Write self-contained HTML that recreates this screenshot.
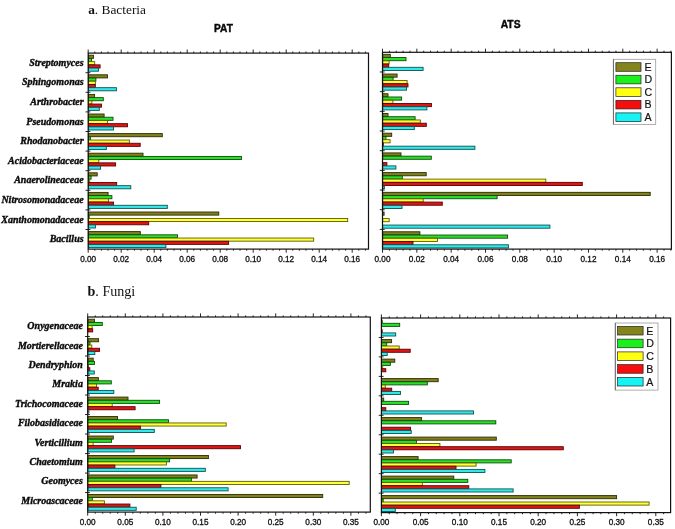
<!DOCTYPE html>
<html><head><meta charset="utf-8"><title>Figure</title>
<style>
html,body{margin:0;padding:0;background:#fff;}
svg{display:block;}
.ax{font-family:"Liberation Sans",Arial,sans-serif;font-size:8.2px;text-anchor:middle;fill:#111;stroke:#111;stroke-width:0.3px;}
.yl{font-family:"Liberation Serif","Times New Roman",serif;font-size:10px;font-weight:bold;font-style:italic;text-anchor:end;fill:#0a0a0a;stroke:#0a0a0a;stroke-width:0.36px;}
.lg{font-family:"Liberation Sans",Arial,sans-serif;font-size:10.6px;fill:#111;stroke:#111;stroke-width:0.2px;}
.ttl{font-family:"Liberation Serif","Times New Roman",serif;font-size:13.8px;fill:#111;}
.hd{font-family:"Liberation Sans",Arial,sans-serif;font-size:11.4px;font-weight:bold;fill:#0a0a0a;stroke:#0a0a0a;stroke-width:0.45px;}
</style></head><body>
<svg width="675" height="529" viewBox="0 0 675 529">
<rect width="675" height="529" fill="#fff"/>
<rect x="88.4" y="55.2" width="5.1" height="3.12" fill="#80801c" stroke="#2c2c00" stroke-width="0.9"/>
<rect x="88.4" y="58.42" width="3.1" height="3.12" fill="#2ae02a" stroke="#0a4c0a" stroke-width="0.9"/>
<rect x="88.4" y="61.64" width="6.3" height="3.12" fill="#ffff3a" stroke="#5c5c00" stroke-width="0.9"/>
<rect x="88.4" y="64.86" width="11.7" height="3.12" fill="#e01515" stroke="#5a0000" stroke-width="0.9"/>
<rect x="88.4" y="68.08" width="10.1" height="3.12" fill="#35e8e8" stroke="#0a5252" stroke-width="0.9"/>
<rect x="88.4" y="74.8" width="19.1" height="3.12" fill="#80801c" stroke="#2c2c00" stroke-width="0.9"/>
<rect x="88.4" y="78.02" width="7.5" height="3.12" fill="#2ae02a" stroke="#0a4c0a" stroke-width="0.9"/>
<rect x="88.4" y="81.24" width="6.9" height="3.12" fill="#ffff3a" stroke="#5c5c00" stroke-width="0.9"/>
<rect x="88.4" y="84.46" width="6.9" height="3.12" fill="#e01515" stroke="#5a0000" stroke-width="0.9"/>
<rect x="88.4" y="87.68" width="28" height="3.12" fill="#35e8e8" stroke="#0a5252" stroke-width="0.9"/>
<rect x="88.4" y="94.4" width="6.2" height="3.12" fill="#80801c" stroke="#2c2c00" stroke-width="0.9"/>
<rect x="88.4" y="97.62" width="14.9" height="3.12" fill="#2ae02a" stroke="#0a4c0a" stroke-width="0.9"/>
<rect x="88.4" y="100.84" width="3.5" height="3.12" fill="#ffff3a" stroke="#5c5c00" stroke-width="0.9"/>
<rect x="88.4" y="104.06" width="13.1" height="3.12" fill="#e01515" stroke="#5a0000" stroke-width="0.9"/>
<rect x="88.4" y="107.28" width="10.9" height="3.12" fill="#35e8e8" stroke="#0a5252" stroke-width="0.9"/>
<rect x="88.4" y="114" width="15.7" height="3.12" fill="#80801c" stroke="#2c2c00" stroke-width="0.9"/>
<rect x="88.4" y="117.22" width="24.6" height="3.12" fill="#2ae02a" stroke="#0a4c0a" stroke-width="0.9"/>
<rect x="88.4" y="120.44" width="19.1" height="3.12" fill="#ffff3a" stroke="#5c5c00" stroke-width="0.9"/>
<rect x="88.4" y="123.66" width="39.1" height="3.12" fill="#e01515" stroke="#5a0000" stroke-width="0.9"/>
<rect x="88.4" y="126.88" width="25.1" height="3.12" fill="#35e8e8" stroke="#0a5252" stroke-width="0.9"/>
<rect x="88.4" y="133.6" width="73.9" height="3.12" fill="#80801c" stroke="#2c2c00" stroke-width="0.9"/>
<rect x="88.4" y="136.82" width="2" height="3.12" fill="#2ae02a" stroke="#0a4c0a" stroke-width="0.9"/>
<rect x="88.4" y="140.04" width="41" height="3.12" fill="#ffff3a" stroke="#5c5c00" stroke-width="0.9"/>
<rect x="88.4" y="143.26" width="51.8" height="3.12" fill="#e01515" stroke="#5a0000" stroke-width="0.9"/>
<rect x="88.4" y="146.48" width="17.9" height="3.12" fill="#35e8e8" stroke="#0a5252" stroke-width="0.9"/>
<rect x="88.4" y="153.2" width="54.6" height="3.12" fill="#80801c" stroke="#2c2c00" stroke-width="0.9"/>
<rect x="88.4" y="156.42" width="153.1" height="3.12" fill="#2ae02a" stroke="#0a4c0a" stroke-width="0.9"/>
<rect x="88.4" y="159.64" width="10.4" height="3.12" fill="#ffff3a" stroke="#5c5c00" stroke-width="0.9"/>
<rect x="88.4" y="162.86" width="27.2" height="3.12" fill="#e01515" stroke="#5a0000" stroke-width="0.9"/>
<rect x="88.4" y="166.08" width="12.2" height="3.12" fill="#35e8e8" stroke="#0a5252" stroke-width="0.9"/>
<rect x="88.4" y="172.8" width="8.8" height="3.12" fill="#80801c" stroke="#2c2c00" stroke-width="0.9"/>
<rect x="88.4" y="176.02" width="2.7" height="3.12" fill="#2ae02a" stroke="#0a4c0a" stroke-width="0.9"/>
<rect x="88.4" y="179.24" width="1.3" height="3.12" fill="#ffff3a" stroke="#5c5c00" stroke-width="0.9"/>
<rect x="88.4" y="182.46" width="28.3" height="3.12" fill="#e01515" stroke="#5a0000" stroke-width="0.9"/>
<rect x="88.4" y="185.68" width="42.4" height="3.12" fill="#35e8e8" stroke="#0a5252" stroke-width="0.9"/>
<rect x="88.4" y="192.4" width="19.7" height="3.12" fill="#80801c" stroke="#2c2c00" stroke-width="0.9"/>
<rect x="88.4" y="195.62" width="23.5" height="3.12" fill="#2ae02a" stroke="#0a4c0a" stroke-width="0.9"/>
<rect x="88.4" y="198.84" width="20.1" height="3.12" fill="#ffff3a" stroke="#5c5c00" stroke-width="0.9"/>
<rect x="88.4" y="202.06" width="25.1" height="3.12" fill="#e01515" stroke="#5a0000" stroke-width="0.9"/>
<rect x="88.4" y="205.28" width="78.9" height="3.12" fill="#35e8e8" stroke="#0a5252" stroke-width="0.9"/>
<rect x="88.4" y="212" width="130.4" height="3.12" fill="#80801c" stroke="#2c2c00" stroke-width="0.9"/>
<rect x="88.4" y="215.22" width="0.8" height="3.12" fill="#2ae02a" stroke="#0a4c0a" stroke-width="0.9"/>
<rect x="88.4" y="218.44" width="259.3" height="3.12" fill="#ffff3a" stroke="#5c5c00" stroke-width="0.9"/>
<rect x="88.4" y="221.66" width="60.3" height="3.12" fill="#e01515" stroke="#5a0000" stroke-width="0.9"/>
<rect x="88.4" y="224.88" width="7" height="3.12" fill="#35e8e8" stroke="#0a5252" stroke-width="0.9"/>
<rect x="88.4" y="231.6" width="51.9" height="3.12" fill="#80801c" stroke="#2c2c00" stroke-width="0.9"/>
<rect x="88.4" y="234.82" width="89.1" height="3.12" fill="#2ae02a" stroke="#0a4c0a" stroke-width="0.9"/>
<rect x="88.4" y="238.04" width="225.3" height="3.12" fill="#ffff3a" stroke="#5c5c00" stroke-width="0.9"/>
<rect x="88.4" y="241.26" width="140.2" height="3.12" fill="#e01515" stroke="#5a0000" stroke-width="0.9"/>
<rect x="88.4" y="244.48" width="77.5" height="3.12" fill="#35e8e8" stroke="#0a5252" stroke-width="0.9"/>
<rect x="88.2" y="53.1" width="280.3" height="196" fill="none" stroke="#111" stroke-width="1.2"/>
<path d="M88.2 53.1v-3.6M88.2 249.1v3.6M94.8 53.1v-1.6M94.8 249.1v1.6M101.4 53.1v-1.6M101.4 249.1v1.6M108 53.1v-1.6M108 249.1v1.6M114.6 53.1v-1.6M114.6 249.1v1.6M121.2 53.1v-3.6M121.2 249.1v3.6M127.8 53.1v-1.6M127.8 249.1v1.6M134.4 53.1v-1.6M134.4 249.1v1.6M141 53.1v-1.6M141 249.1v1.6M147.6 53.1v-1.6M147.6 249.1v1.6M154.2 53.1v-3.6M154.2 249.1v3.6M160.8 53.1v-1.6M160.8 249.1v1.6M167.4 53.1v-1.6M167.4 249.1v1.6M174 53.1v-1.6M174 249.1v1.6M180.6 53.1v-1.6M180.6 249.1v1.6M187.2 53.1v-3.6M187.2 249.1v3.6M193.8 53.1v-1.6M193.8 249.1v1.6M200.4 53.1v-1.6M200.4 249.1v1.6M207 53.1v-1.6M207 249.1v1.6M213.6 53.1v-1.6M213.6 249.1v1.6M220.2 53.1v-3.6M220.2 249.1v3.6M226.8 53.1v-1.6M226.8 249.1v1.6M233.4 53.1v-1.6M233.4 249.1v1.6M240 53.1v-1.6M240 249.1v1.6M246.6 53.1v-1.6M246.6 249.1v1.6M253.2 53.1v-3.6M253.2 249.1v3.6M259.8 53.1v-1.6M259.8 249.1v1.6M266.4 53.1v-1.6M266.4 249.1v1.6M273 53.1v-1.6M273 249.1v1.6M279.6 53.1v-1.6M279.6 249.1v1.6M286.2 53.1v-3.6M286.2 249.1v3.6M292.8 53.1v-1.6M292.8 249.1v1.6M299.4 53.1v-1.6M299.4 249.1v1.6M306 53.1v-1.6M306 249.1v1.6M312.6 53.1v-1.6M312.6 249.1v1.6M319.2 53.1v-3.6M319.2 249.1v3.6M325.8 53.1v-1.6M325.8 249.1v1.6M332.4 53.1v-1.6M332.4 249.1v1.6M339 53.1v-1.6M339 249.1v1.6M345.6 53.1v-1.6M345.6 249.1v1.6M352.2 53.1v-3.6M352.2 249.1v3.6M358.8 53.1v-1.6M358.8 249.1v1.6M365.4 53.1v-1.6M365.4 249.1v1.6M90.4 72.7h-4.9M90.4 92.3h-4.9M90.4 111.9h-4.9M90.4 131.5h-4.9M90.4 151.1h-4.9M90.4 170.7h-4.9M90.4 190.3h-4.9M90.4 209.9h-4.9M90.4 229.5h-4.9" stroke="#111" stroke-width="0.9" fill="none"/>
<text class="ax" x="88.2" y="261.5">0.00</text>
<text class="ax" x="121.2" y="261.5">0.02</text>
<text class="ax" x="154.2" y="261.5">0.04</text>
<text class="ax" x="187.2" y="261.5">0.06</text>
<text class="ax" x="220.2" y="261.5">0.08</text>
<text class="ax" x="253.2" y="261.5">0.10</text>
<text class="ax" x="286.2" y="261.5">0.12</text>
<text class="ax" x="319.2" y="261.5">0.14</text>
<text class="ax" x="352.2" y="261.5">0.16</text>
<text class="yl" x="83.6" y="65.7">Streptomyces</text>
<text class="yl" x="83.6" y="85.3">Sphingomonas</text>
<text class="yl" x="83.6" y="104.9">Arthrobacter</text>
<text class="yl" x="83.6" y="124.5">Pseudomonas</text>
<text class="yl" x="83.6" y="144.1">Rhodanobacter</text>
<text class="yl" x="83.6" y="163.7">Acidobacteriaceae</text>
<text class="yl" x="83.6" y="183.3">Anaerolineaceae</text>
<text class="yl" x="83.6" y="202.9">Nitrosomonadaceae</text>
<text class="yl" x="83.6" y="222.5">Xanthomonadaceae</text>
<text class="yl" x="83.6" y="242.1">Bacillus</text>
<rect x="382.7" y="54.3" width="7.6" height="3.15" fill="#80801c" stroke="#2c2c00" stroke-width="0.9"/>
<rect x="382.7" y="57.55" width="23.3" height="3.15" fill="#2ae02a" stroke="#0a4c0a" stroke-width="0.9"/>
<rect x="382.7" y="60.8" width="6.4" height="3.15" fill="#ffff3a" stroke="#5c5c00" stroke-width="0.9"/>
<rect x="382.7" y="64.05" width="6" height="3.15" fill="#e01515" stroke="#5a0000" stroke-width="0.9"/>
<rect x="382.7" y="67.3" width="40.4" height="3.15" fill="#35e8e8" stroke="#0a5252" stroke-width="0.9"/>
<rect x="382.7" y="74.02" width="14.4" height="3.15" fill="#80801c" stroke="#2c2c00" stroke-width="0.9"/>
<rect x="382.7" y="77.27" width="10.4" height="3.15" fill="#2ae02a" stroke="#0a4c0a" stroke-width="0.9"/>
<rect x="382.7" y="80.52" width="24.4" height="3.15" fill="#ffff3a" stroke="#5c5c00" stroke-width="0.9"/>
<rect x="382.7" y="83.77" width="25.3" height="3.15" fill="#e01515" stroke="#5a0000" stroke-width="0.9"/>
<rect x="382.7" y="87.02" width="23.8" height="3.15" fill="#35e8e8" stroke="#0a5252" stroke-width="0.9"/>
<rect x="382.7" y="93.74" width="5.3" height="3.15" fill="#80801c" stroke="#2c2c00" stroke-width="0.9"/>
<rect x="382.7" y="96.99" width="18.9" height="3.15" fill="#2ae02a" stroke="#0a4c0a" stroke-width="0.9"/>
<rect x="382.7" y="100.24" width="10.2" height="3.15" fill="#ffff3a" stroke="#5c5c00" stroke-width="0.9"/>
<rect x="382.7" y="103.49" width="48.7" height="3.15" fill="#e01515" stroke="#5a0000" stroke-width="0.9"/>
<rect x="382.7" y="106.74" width="44.2" height="3.15" fill="#35e8e8" stroke="#0a5252" stroke-width="0.9"/>
<rect x="382.7" y="113.46" width="5.3" height="3.15" fill="#80801c" stroke="#2c2c00" stroke-width="0.9"/>
<rect x="382.7" y="116.71" width="32.4" height="3.15" fill="#2ae02a" stroke="#0a4c0a" stroke-width="0.9"/>
<rect x="382.7" y="119.96" width="37.6" height="3.15" fill="#ffff3a" stroke="#5c5c00" stroke-width="0.9"/>
<rect x="382.7" y="123.21" width="43.6" height="3.15" fill="#e01515" stroke="#5a0000" stroke-width="0.9"/>
<rect x="382.7" y="126.46" width="31.6" height="3.15" fill="#35e8e8" stroke="#0a5252" stroke-width="0.9"/>
<rect x="382.7" y="133.18" width="9" height="3.15" fill="#80801c" stroke="#2c2c00" stroke-width="0.9"/>
<rect x="382.7" y="136.43" width="3.3" height="3.15" fill="#2ae02a" stroke="#0a4c0a" stroke-width="0.9"/>
<rect x="382.7" y="139.68" width="7.4" height="3.15" fill="#ffff3a" stroke="#5c5c00" stroke-width="0.9"/>
<rect x="382.7" y="142.93" width="0.6" height="3.15" fill="#e01515" stroke="#5a0000" stroke-width="0.9"/>
<rect x="382.7" y="146.18" width="92.2" height="3.15" fill="#35e8e8" stroke="#0a5252" stroke-width="0.9"/>
<rect x="382.7" y="152.9" width="18.3" height="3.15" fill="#80801c" stroke="#2c2c00" stroke-width="0.9"/>
<rect x="382.7" y="156.15" width="48.6" height="3.15" fill="#2ae02a" stroke="#0a4c0a" stroke-width="0.9"/>
<rect x="382.7" y="162.65" width="4.2" height="3.15" fill="#e01515" stroke="#5a0000" stroke-width="0.9"/>
<rect x="382.7" y="165.9" width="13.2" height="3.15" fill="#35e8e8" stroke="#0a5252" stroke-width="0.9"/>
<rect x="382.7" y="172.62" width="43.5" height="3.15" fill="#80801c" stroke="#2c2c00" stroke-width="0.9"/>
<rect x="382.7" y="175.87" width="19.6" height="3.15" fill="#2ae02a" stroke="#0a4c0a" stroke-width="0.9"/>
<rect x="382.7" y="179.12" width="163.1" height="3.15" fill="#ffff3a" stroke="#5c5c00" stroke-width="0.9"/>
<rect x="382.7" y="182.37" width="199.6" height="3.15" fill="#e01515" stroke="#5a0000" stroke-width="0.9"/>
<rect x="382.7" y="185.62" width="1.7" height="3.15" fill="#35e8e8" stroke="#0a5252" stroke-width="0.9"/>
<rect x="382.7" y="192.34" width="267.5" height="3.15" fill="#80801c" stroke="#2c2c00" stroke-width="0.9"/>
<rect x="382.7" y="195.59" width="114.4" height="3.15" fill="#2ae02a" stroke="#0a4c0a" stroke-width="0.9"/>
<rect x="382.7" y="198.84" width="40.5" height="3.15" fill="#ffff3a" stroke="#5c5c00" stroke-width="0.9"/>
<rect x="382.7" y="202.09" width="59.6" height="3.15" fill="#e01515" stroke="#5a0000" stroke-width="0.9"/>
<rect x="382.7" y="205.34" width="19.3" height="3.15" fill="#35e8e8" stroke="#0a5252" stroke-width="0.9"/>
<rect x="382.7" y="212.06" width="1.4" height="3.15" fill="#80801c" stroke="#2c2c00" stroke-width="0.9"/>
<rect x="382.7" y="218.56" width="6.5" height="3.15" fill="#ffff3a" stroke="#5c5c00" stroke-width="0.9"/>
<rect x="382.7" y="225.06" width="167.2" height="3.15" fill="#35e8e8" stroke="#0a5252" stroke-width="0.9"/>
<rect x="382.7" y="231.78" width="37.2" height="3.15" fill="#80801c" stroke="#2c2c00" stroke-width="0.9"/>
<rect x="382.7" y="235.03" width="124.9" height="3.15" fill="#2ae02a" stroke="#0a4c0a" stroke-width="0.9"/>
<rect x="382.7" y="238.28" width="54.8" height="3.15" fill="#ffff3a" stroke="#5c5c00" stroke-width="0.9"/>
<rect x="382.7" y="241.53" width="30.3" height="3.15" fill="#e01515" stroke="#5a0000" stroke-width="0.9"/>
<rect x="382.7" y="244.78" width="125.7" height="3.15" fill="#35e8e8" stroke="#0a5252" stroke-width="0.9"/>
<rect x="382.5" y="52.3" width="288.9" height="196.8" fill="none" stroke="#111" stroke-width="1.2"/>
<path d="M382.5 52.3v-3.6M382.5 249.1v3.6M389.37 52.3v-1.6M389.37 249.1v1.6M396.23 52.3v-1.6M396.23 249.1v1.6M403.1 52.3v-1.6M403.1 249.1v1.6M409.96 52.3v-1.6M409.96 249.1v1.6M416.83 52.3v-3.6M416.83 249.1v3.6M423.7 52.3v-1.6M423.7 249.1v1.6M430.56 52.3v-1.6M430.56 249.1v1.6M437.43 52.3v-1.6M437.43 249.1v1.6M444.29 52.3v-1.6M444.29 249.1v1.6M451.16 52.3v-3.6M451.16 249.1v3.6M458.03 52.3v-1.6M458.03 249.1v1.6M464.89 52.3v-1.6M464.89 249.1v1.6M471.76 52.3v-1.6M471.76 249.1v1.6M478.62 52.3v-1.6M478.62 249.1v1.6M485.49 52.3v-3.6M485.49 249.1v3.6M492.36 52.3v-1.6M492.36 249.1v1.6M499.22 52.3v-1.6M499.22 249.1v1.6M506.09 52.3v-1.6M506.09 249.1v1.6M512.95 52.3v-1.6M512.95 249.1v1.6M519.82 52.3v-3.6M519.82 249.1v3.6M526.69 52.3v-1.6M526.69 249.1v1.6M533.55 52.3v-1.6M533.55 249.1v1.6M540.42 52.3v-1.6M540.42 249.1v1.6M547.28 52.3v-1.6M547.28 249.1v1.6M554.15 52.3v-3.6M554.15 249.1v3.6M561.02 52.3v-1.6M561.02 249.1v1.6M567.88 52.3v-1.6M567.88 249.1v1.6M574.75 52.3v-1.6M574.75 249.1v1.6M581.61 52.3v-1.6M581.61 249.1v1.6M588.48 52.3v-3.6M588.48 249.1v3.6M595.35 52.3v-1.6M595.35 249.1v1.6M602.21 52.3v-1.6M602.21 249.1v1.6M609.08 52.3v-1.6M609.08 249.1v1.6M615.94 52.3v-1.6M615.94 249.1v1.6M622.81 52.3v-3.6M622.81 249.1v3.6M629.68 52.3v-1.6M629.68 249.1v1.6M636.54 52.3v-1.6M636.54 249.1v1.6M643.41 52.3v-1.6M643.41 249.1v1.6M650.27 52.3v-1.6M650.27 249.1v1.6M657.14 52.3v-3.6M657.14 249.1v3.6M664.01 52.3v-1.6M664.01 249.1v1.6M670.87 52.3v-1.6M670.87 249.1v1.6M384.7 71.98h-4.9M384.7 91.66h-4.9M384.7 111.34h-4.9M384.7 131.02h-4.9M384.7 150.7h-4.9M384.7 170.38h-4.9M384.7 190.06h-4.9M384.7 209.74h-4.9M384.7 229.42h-4.9" stroke="#111" stroke-width="0.9" fill="none"/>
<text class="ax" x="382.5" y="261.5">0.00</text>
<text class="ax" x="416.83" y="261.5">0.02</text>
<text class="ax" x="451.16" y="261.5">0.04</text>
<text class="ax" x="485.49" y="261.5">0.06</text>
<text class="ax" x="519.82" y="261.5">0.08</text>
<text class="ax" x="554.15" y="261.5">0.10</text>
<text class="ax" x="588.48" y="261.5">0.12</text>
<text class="ax" x="622.81" y="261.5">0.14</text>
<text class="ax" x="657.14" y="261.5">0.16</text>
<rect x="87.9" y="319.2" width="6.6" height="3.1" fill="#80801c" stroke="#2c2c00" stroke-width="0.9"/>
<rect x="87.9" y="322.4" width="14.4" height="3.1" fill="#2ae02a" stroke="#0a4c0a" stroke-width="0.9"/>
<rect x="87.9" y="325.6" width="4.2" height="3.1" fill="#ffff3a" stroke="#5c5c00" stroke-width="0.9"/>
<rect x="87.9" y="328.8" width="4.8" height="3.1" fill="#e01515" stroke="#5a0000" stroke-width="0.9"/>
<rect x="87.9" y="338.67" width="10.7" height="3.1" fill="#80801c" stroke="#2c2c00" stroke-width="0.9"/>
<rect x="87.9" y="341.87" width="2.1" height="3.1" fill="#2ae02a" stroke="#0a4c0a" stroke-width="0.9"/>
<rect x="87.9" y="345.07" width="3.9" height="3.1" fill="#ffff3a" stroke="#5c5c00" stroke-width="0.9"/>
<rect x="87.9" y="348.27" width="11.6" height="3.1" fill="#e01515" stroke="#5a0000" stroke-width="0.9"/>
<rect x="87.9" y="351.47" width="6.9" height="3.1" fill="#35e8e8" stroke="#0a5252" stroke-width="0.9"/>
<rect x="87.9" y="358.14" width="5.3" height="3.1" fill="#80801c" stroke="#2c2c00" stroke-width="0.9"/>
<rect x="87.9" y="361.34" width="6.6" height="3.1" fill="#2ae02a" stroke="#0a4c0a" stroke-width="0.9"/>
<rect x="87.9" y="364.54" width="0.6" height="3.1" fill="#ffff3a" stroke="#5c5c00" stroke-width="0.9"/>
<rect x="87.9" y="367.74" width="1.9" height="3.1" fill="#e01515" stroke="#5a0000" stroke-width="0.9"/>
<rect x="87.9" y="370.94" width="6.4" height="3.1" fill="#35e8e8" stroke="#0a5252" stroke-width="0.9"/>
<rect x="87.9" y="377.61" width="10.5" height="3.1" fill="#80801c" stroke="#2c2c00" stroke-width="0.9"/>
<rect x="87.9" y="380.81" width="23.4" height="3.1" fill="#2ae02a" stroke="#0a4c0a" stroke-width="0.9"/>
<rect x="87.9" y="384.01" width="8.7" height="3.1" fill="#ffff3a" stroke="#5c5c00" stroke-width="0.9"/>
<rect x="87.9" y="387.21" width="10.3" height="3.1" fill="#e01515" stroke="#5a0000" stroke-width="0.9"/>
<rect x="87.9" y="390.41" width="25.9" height="3.1" fill="#35e8e8" stroke="#0a5252" stroke-width="0.9"/>
<rect x="87.9" y="397.08" width="40.1" height="3.1" fill="#80801c" stroke="#2c2c00" stroke-width="0.9"/>
<rect x="87.9" y="400.28" width="71.7" height="3.1" fill="#2ae02a" stroke="#0a4c0a" stroke-width="0.9"/>
<rect x="87.9" y="403.48" width="24.3" height="3.1" fill="#ffff3a" stroke="#5c5c00" stroke-width="0.9"/>
<rect x="87.9" y="406.68" width="47.2" height="3.1" fill="#e01515" stroke="#5a0000" stroke-width="0.9"/>
<rect x="87.9" y="409.88" width="1" height="3.1" fill="#35e8e8" stroke="#0a5252" stroke-width="0.9"/>
<rect x="87.9" y="416.55" width="29.6" height="3.1" fill="#80801c" stroke="#2c2c00" stroke-width="0.9"/>
<rect x="87.9" y="419.75" width="80.6" height="3.1" fill="#2ae02a" stroke="#0a4c0a" stroke-width="0.9"/>
<rect x="87.9" y="422.95" width="138.3" height="3.1" fill="#ffff3a" stroke="#5c5c00" stroke-width="0.9"/>
<rect x="87.9" y="426.15" width="52.5" height="3.1" fill="#e01515" stroke="#5a0000" stroke-width="0.9"/>
<rect x="87.9" y="429.35" width="66.4" height="3.1" fill="#35e8e8" stroke="#0a5252" stroke-width="0.9"/>
<rect x="87.9" y="436.02" width="25.4" height="3.1" fill="#80801c" stroke="#2c2c00" stroke-width="0.9"/>
<rect x="87.9" y="439.22" width="23.6" height="3.1" fill="#2ae02a" stroke="#0a4c0a" stroke-width="0.9"/>
<rect x="87.9" y="442.42" width="5.2" height="3.1" fill="#ffff3a" stroke="#5c5c00" stroke-width="0.9"/>
<rect x="87.9" y="445.62" width="152.6" height="3.1" fill="#e01515" stroke="#5a0000" stroke-width="0.9"/>
<rect x="87.9" y="448.82" width="46.2" height="3.1" fill="#35e8e8" stroke="#0a5252" stroke-width="0.9"/>
<rect x="87.9" y="455.49" width="120.5" height="3.1" fill="#80801c" stroke="#2c2c00" stroke-width="0.9"/>
<rect x="87.9" y="458.69" width="81.7" height="3.1" fill="#2ae02a" stroke="#0a4c0a" stroke-width="0.9"/>
<rect x="87.9" y="461.89" width="78.5" height="3.1" fill="#ffff3a" stroke="#5c5c00" stroke-width="0.9"/>
<rect x="87.9" y="465.09" width="27" height="3.1" fill="#e01515" stroke="#5a0000" stroke-width="0.9"/>
<rect x="87.9" y="468.29" width="117.4" height="3.1" fill="#35e8e8" stroke="#0a5252" stroke-width="0.9"/>
<rect x="87.9" y="474.96" width="109.2" height="3.1" fill="#80801c" stroke="#2c2c00" stroke-width="0.9"/>
<rect x="87.9" y="478.16" width="103.5" height="3.1" fill="#2ae02a" stroke="#0a4c0a" stroke-width="0.9"/>
<rect x="87.9" y="481.36" width="261.3" height="3.1" fill="#ffff3a" stroke="#5c5c00" stroke-width="0.9"/>
<rect x="87.9" y="484.56" width="73" height="3.1" fill="#e01515" stroke="#5a0000" stroke-width="0.9"/>
<rect x="87.9" y="487.76" width="140.2" height="3.1" fill="#35e8e8" stroke="#0a5252" stroke-width="0.9"/>
<rect x="87.9" y="494.43" width="234.8" height="3.1" fill="#80801c" stroke="#2c2c00" stroke-width="0.9"/>
<rect x="87.9" y="497.63" width="4.4" height="3.1" fill="#2ae02a" stroke="#0a4c0a" stroke-width="0.9"/>
<rect x="87.9" y="500.83" width="16.5" height="3.1" fill="#ffff3a" stroke="#5c5c00" stroke-width="0.9"/>
<rect x="87.9" y="504.03" width="42" height="3.1" fill="#e01515" stroke="#5a0000" stroke-width="0.9"/>
<rect x="87.9" y="507.23" width="48.3" height="3.1" fill="#35e8e8" stroke="#0a5252" stroke-width="0.9"/>
<rect x="87.7" y="317" width="282.6" height="195.1" fill="none" stroke="#111" stroke-width="1.2"/>
<path d="M87.7 317v-3.6M87.7 512.1v3.6M95.22 317v-1.6M95.22 512.1v1.6M102.74 317v-1.6M102.74 512.1v1.6M110.26 317v-1.6M110.26 512.1v1.6M117.78 317v-1.6M117.78 512.1v1.6M125.3 317v-3.6M125.3 512.1v3.6M132.82 317v-1.6M132.82 512.1v1.6M140.34 317v-1.6M140.34 512.1v1.6M147.86 317v-1.6M147.86 512.1v1.6M155.38 317v-1.6M155.38 512.1v1.6M162.9 317v-3.6M162.9 512.1v3.6M170.42 317v-1.6M170.42 512.1v1.6M177.94 317v-1.6M177.94 512.1v1.6M185.46 317v-1.6M185.46 512.1v1.6M192.98 317v-1.6M192.98 512.1v1.6M200.5 317v-3.6M200.5 512.1v3.6M208.02 317v-1.6M208.02 512.1v1.6M215.54 317v-1.6M215.54 512.1v1.6M223.06 317v-1.6M223.06 512.1v1.6M230.58 317v-1.6M230.58 512.1v1.6M238.1 317v-3.6M238.1 512.1v3.6M245.62 317v-1.6M245.62 512.1v1.6M253.14 317v-1.6M253.14 512.1v1.6M260.66 317v-1.6M260.66 512.1v1.6M268.18 317v-1.6M268.18 512.1v1.6M275.7 317v-3.6M275.7 512.1v3.6M283.22 317v-1.6M283.22 512.1v1.6M290.74 317v-1.6M290.74 512.1v1.6M298.26 317v-1.6M298.26 512.1v1.6M305.78 317v-1.6M305.78 512.1v1.6M313.3 317v-3.6M313.3 512.1v3.6M320.82 317v-1.6M320.82 512.1v1.6M328.34 317v-1.6M328.34 512.1v1.6M335.86 317v-1.6M335.86 512.1v1.6M343.38 317v-1.6M343.38 512.1v1.6M350.9 317v-3.6M350.9 512.1v3.6M358.42 317v-1.6M358.42 512.1v1.6M365.94 317v-1.6M365.94 512.1v1.6M89.9 336.51h-4.9M89.9 356.02h-4.9M89.9 375.53h-4.9M89.9 395.04h-4.9M89.9 414.55h-4.9M89.9 434.06h-4.9M89.9 453.57h-4.9M89.9 473.08h-4.9M89.9 492.59h-4.9" stroke="#111" stroke-width="0.9" fill="none"/>
<text class="ax" x="87.7" y="524.5">0.00</text>
<text class="ax" x="125.3" y="524.5">0.05</text>
<text class="ax" x="162.9" y="524.5">0.10</text>
<text class="ax" x="200.5" y="524.5">0.15</text>
<text class="ax" x="238.1" y="524.5">0.20</text>
<text class="ax" x="275.7" y="524.5">0.25</text>
<text class="ax" x="313.3" y="524.5">0.30</text>
<text class="ax" x="350.9" y="524.5">0.35</text>
<text class="yl" x="82.9" y="329.1">Onygenaceae</text>
<text class="yl" x="82.9" y="348.52">Mortierellaceae</text>
<text class="yl" x="82.9" y="367.94">Dendryphion</text>
<text class="yl" x="82.9" y="387.36">Mrakia</text>
<text class="yl" x="82.9" y="406.78">Trichocomaceae</text>
<text class="yl" x="82.9" y="426.2">Filobasidiaceae</text>
<text class="yl" x="82.9" y="445.62">Verticillium</text>
<text class="yl" x="82.9" y="465.04">Chaetomium</text>
<text class="yl" x="82.9" y="484.46">Geomyces</text>
<text class="yl" x="82.9" y="503.88">Microascaceae</text>
<rect x="381.6" y="320.1" width="0.6" height="3.1" fill="#80801c" stroke="#2c2c00" stroke-width="0.9"/>
<rect x="381.6" y="323.3" width="18.1" height="3.1" fill="#2ae02a" stroke="#0a4c0a" stroke-width="0.9"/>
<rect x="381.6" y="329.7" width="0.6" height="3.1" fill="#e01515" stroke="#5a0000" stroke-width="0.9"/>
<rect x="381.6" y="332.9" width="14.1" height="3.1" fill="#35e8e8" stroke="#0a5252" stroke-width="0.9"/>
<rect x="381.6" y="339.6" width="10" height="3.1" fill="#80801c" stroke="#2c2c00" stroke-width="0.9"/>
<rect x="381.6" y="342.8" width="5.1" height="3.1" fill="#2ae02a" stroke="#0a4c0a" stroke-width="0.9"/>
<rect x="381.6" y="346" width="17.6" height="3.1" fill="#ffff3a" stroke="#5c5c00" stroke-width="0.9"/>
<rect x="381.6" y="349.2" width="28.6" height="3.1" fill="#e01515" stroke="#5a0000" stroke-width="0.9"/>
<rect x="381.6" y="352.4" width="5.6" height="3.1" fill="#35e8e8" stroke="#0a5252" stroke-width="0.9"/>
<rect x="381.6" y="359.1" width="13.2" height="3.1" fill="#80801c" stroke="#2c2c00" stroke-width="0.9"/>
<rect x="381.6" y="362.3" width="8.7" height="3.1" fill="#2ae02a" stroke="#0a4c0a" stroke-width="0.9"/>
<rect x="381.6" y="365.5" width="1.1" height="3.1" fill="#ffff3a" stroke="#5c5c00" stroke-width="0.9"/>
<rect x="381.6" y="368.7" width="4.2" height="3.1" fill="#e01515" stroke="#5a0000" stroke-width="0.9"/>
<rect x="381.6" y="378.6" width="56.6" height="3.1" fill="#80801c" stroke="#2c2c00" stroke-width="0.9"/>
<rect x="381.6" y="381.8" width="45.7" height="3.1" fill="#2ae02a" stroke="#0a4c0a" stroke-width="0.9"/>
<rect x="381.6" y="385" width="3.7" height="3.1" fill="#ffff3a" stroke="#5c5c00" stroke-width="0.9"/>
<rect x="381.6" y="388.2" width="10.1" height="3.1" fill="#e01515" stroke="#5a0000" stroke-width="0.9"/>
<rect x="381.6" y="391.4" width="18.9" height="3.1" fill="#35e8e8" stroke="#0a5252" stroke-width="0.9"/>
<rect x="381.6" y="398.1" width="2.1" height="3.1" fill="#80801c" stroke="#2c2c00" stroke-width="0.9"/>
<rect x="381.6" y="401.3" width="27" height="3.1" fill="#2ae02a" stroke="#0a4c0a" stroke-width="0.9"/>
<rect x="381.6" y="407.7" width="4.2" height="3.1" fill="#e01515" stroke="#5a0000" stroke-width="0.9"/>
<rect x="381.6" y="410.9" width="91.9" height="3.1" fill="#35e8e8" stroke="#0a5252" stroke-width="0.9"/>
<rect x="381.6" y="417.6" width="40" height="3.1" fill="#80801c" stroke="#2c2c00" stroke-width="0.9"/>
<rect x="381.6" y="420.8" width="114.2" height="3.1" fill="#2ae02a" stroke="#0a4c0a" stroke-width="0.9"/>
<rect x="381.6" y="427.2" width="28.9" height="3.1" fill="#e01515" stroke="#5a0000" stroke-width="0.9"/>
<rect x="381.6" y="430.4" width="29.6" height="3.1" fill="#35e8e8" stroke="#0a5252" stroke-width="0.9"/>
<rect x="381.6" y="437.1" width="114.7" height="3.1" fill="#80801c" stroke="#2c2c00" stroke-width="0.9"/>
<rect x="381.6" y="440.3" width="34.8" height="3.1" fill="#2ae02a" stroke="#0a4c0a" stroke-width="0.9"/>
<rect x="381.6" y="443.5" width="58.3" height="3.1" fill="#ffff3a" stroke="#5c5c00" stroke-width="0.9"/>
<rect x="381.6" y="446.7" width="181.7" height="3.1" fill="#e01515" stroke="#5a0000" stroke-width="0.9"/>
<rect x="381.6" y="449.9" width="11.8" height="3.1" fill="#35e8e8" stroke="#0a5252" stroke-width="0.9"/>
<rect x="381.6" y="456.6" width="36.5" height="3.1" fill="#80801c" stroke="#2c2c00" stroke-width="0.9"/>
<rect x="381.6" y="459.8" width="129.6" height="3.1" fill="#2ae02a" stroke="#0a4c0a" stroke-width="0.9"/>
<rect x="381.6" y="463" width="94.5" height="3.1" fill="#ffff3a" stroke="#5c5c00" stroke-width="0.9"/>
<rect x="381.6" y="466.2" width="74.4" height="3.1" fill="#e01515" stroke="#5a0000" stroke-width="0.9"/>
<rect x="381.6" y="469.4" width="103.3" height="3.1" fill="#35e8e8" stroke="#0a5252" stroke-width="0.9"/>
<rect x="381.6" y="476.1" width="72.2" height="3.1" fill="#80801c" stroke="#2c2c00" stroke-width="0.9"/>
<rect x="381.6" y="479.3" width="86.2" height="3.1" fill="#2ae02a" stroke="#0a4c0a" stroke-width="0.9"/>
<rect x="381.6" y="482.5" width="40.7" height="3.1" fill="#ffff3a" stroke="#5c5c00" stroke-width="0.9"/>
<rect x="381.6" y="485.7" width="87.2" height="3.1" fill="#e01515" stroke="#5a0000" stroke-width="0.9"/>
<rect x="381.6" y="488.9" width="131.5" height="3.1" fill="#35e8e8" stroke="#0a5252" stroke-width="0.9"/>
<rect x="381.6" y="495.6" width="235" height="3.1" fill="#80801c" stroke="#2c2c00" stroke-width="0.9"/>
<rect x="381.6" y="498.8" width="1.6" height="3.1" fill="#2ae02a" stroke="#0a4c0a" stroke-width="0.9"/>
<rect x="381.6" y="502" width="267.5" height="3.1" fill="#ffff3a" stroke="#5c5c00" stroke-width="0.9"/>
<rect x="381.6" y="505.2" width="197.8" height="3.1" fill="#e01515" stroke="#5a0000" stroke-width="0.9"/>
<rect x="381.6" y="508.4" width="13.7" height="3.1" fill="#35e8e8" stroke="#0a5252" stroke-width="0.9"/>
<rect x="381.4" y="318" width="289.2" height="194.6" fill="none" stroke="#111" stroke-width="1.2"/>
<path d="M381.4 318v-3.6M381.4 512.6v3.6M389.24 318v-1.6M389.24 512.6v1.6M397.08 318v-1.6M397.08 512.6v1.6M404.92 318v-1.6M404.92 512.6v1.6M412.76 318v-1.6M412.76 512.6v1.6M420.6 318v-3.6M420.6 512.6v3.6M428.44 318v-1.6M428.44 512.6v1.6M436.28 318v-1.6M436.28 512.6v1.6M444.12 318v-1.6M444.12 512.6v1.6M451.96 318v-1.6M451.96 512.6v1.6M459.8 318v-3.6M459.8 512.6v3.6M467.64 318v-1.6M467.64 512.6v1.6M475.48 318v-1.6M475.48 512.6v1.6M483.32 318v-1.6M483.32 512.6v1.6M491.16 318v-1.6M491.16 512.6v1.6M499 318v-3.6M499 512.6v3.6M506.84 318v-1.6M506.84 512.6v1.6M514.68 318v-1.6M514.68 512.6v1.6M522.52 318v-1.6M522.52 512.6v1.6M530.36 318v-1.6M530.36 512.6v1.6M538.2 318v-3.6M538.2 512.6v3.6M546.04 318v-1.6M546.04 512.6v1.6M553.88 318v-1.6M553.88 512.6v1.6M561.72 318v-1.6M561.72 512.6v1.6M569.56 318v-1.6M569.56 512.6v1.6M577.4 318v-3.6M577.4 512.6v3.6M585.24 318v-1.6M585.24 512.6v1.6M593.08 318v-1.6M593.08 512.6v1.6M600.92 318v-1.6M600.92 512.6v1.6M608.76 318v-1.6M608.76 512.6v1.6M616.6 318v-3.6M616.6 512.6v3.6M624.44 318v-1.6M624.44 512.6v1.6M632.28 318v-1.6M632.28 512.6v1.6M640.12 318v-1.6M640.12 512.6v1.6M647.96 318v-1.6M647.96 512.6v1.6M655.8 318v-3.6M655.8 512.6v3.6M663.64 318v-1.6M663.64 512.6v1.6M383.6 337.46h-4.9M383.6 356.92h-4.9M383.6 376.38h-4.9M383.6 395.84h-4.9M383.6 415.3h-4.9M383.6 434.76h-4.9M383.6 454.22h-4.9M383.6 473.68h-4.9M383.6 493.14h-4.9" stroke="#111" stroke-width="0.9" fill="none"/>
<text class="ax" x="381.4" y="525">0.00</text>
<text class="ax" x="420.6" y="525">0.05</text>
<text class="ax" x="459.8" y="525">0.10</text>
<text class="ax" x="499" y="525">0.15</text>
<text class="ax" x="538.2" y="525">0.20</text>
<text class="ax" x="577.4" y="525">0.25</text>
<text class="ax" x="616.6" y="525">0.30</text>
<text class="ax" x="655.8" y="525">0.35</text>
<rect x="613.4" y="59.3" width="42.3" height="65.1" fill="#fff" stroke="#9a9a9a" stroke-width="0.8"/>
<path d="M613.4 59.3v65.1" stroke="#555" stroke-width="0.8"/>
<rect x="615.9" y="62.7" width="25.1" height="8.6" fill="#84841c" stroke="#222" stroke-width="0.7"/>
<text class="lg" x="644.4" y="70.8">E</text>
<rect x="615.9" y="75.25" width="25.1" height="8.6" fill="#1cf01c" stroke="#222" stroke-width="0.7"/>
<text class="lg" x="644.4" y="83.35">D</text>
<rect x="615.9" y="87.8" width="25.1" height="8.6" fill="#ffff14" stroke="#222" stroke-width="0.7"/>
<text class="lg" x="644.4" y="95.9">C</text>
<rect x="615.9" y="100.35" width="25.1" height="8.6" fill="#f80d0d" stroke="#222" stroke-width="0.7"/>
<text class="lg" x="644.4" y="108.45">B</text>
<rect x="615.9" y="112.9" width="25.1" height="8.6" fill="#14f4f4" stroke="#222" stroke-width="0.7"/>
<text class="lg" x="644.4" y="121">A</text>
<rect x="615.3" y="323" width="42.7" height="67.1" fill="#fff" stroke="#9a9a9a" stroke-width="0.8"/>
<path d="M615.3 323v67.1" stroke="#555" stroke-width="0.8"/>
<rect x="617.6" y="326.4" width="25.5" height="8.6" fill="#84841c" stroke="#222" stroke-width="0.7"/>
<text class="lg" x="646.3" y="334.5">E</text>
<rect x="617.6" y="339.15" width="25.5" height="8.6" fill="#1cf01c" stroke="#222" stroke-width="0.7"/>
<text class="lg" x="646.3" y="347.25">D</text>
<rect x="617.6" y="351.9" width="25.5" height="8.6" fill="#ffff14" stroke="#222" stroke-width="0.7"/>
<text class="lg" x="646.3" y="360">C</text>
<rect x="617.6" y="364.65" width="25.5" height="8.6" fill="#f80d0d" stroke="#222" stroke-width="0.7"/>
<text class="lg" x="646.3" y="372.75">B</text>
<rect x="617.6" y="377.4" width="25.5" height="8.6" fill="#14f4f4" stroke="#222" stroke-width="0.7"/>
<text class="lg" x="646.3" y="385.5">A</text>
<text class="ttl" x="88.2" y="13.7" style="font-size:13.35px"><tspan font-weight="bold">a</tspan>. Bacteria</text>
<text class="ttl" x="87.5" y="295.9" style="font-size:14.1px"><tspan font-weight="bold">b</tspan>. Fungi</text>
<text class="hd" x="214.1" y="32.2" textLength="18.8" lengthAdjust="spacingAndGlyphs">PAT</text>
<text class="hd" x="500.7" y="28.1" textLength="19.8" lengthAdjust="spacingAndGlyphs">ATS</text>
</svg>
</body></html>
